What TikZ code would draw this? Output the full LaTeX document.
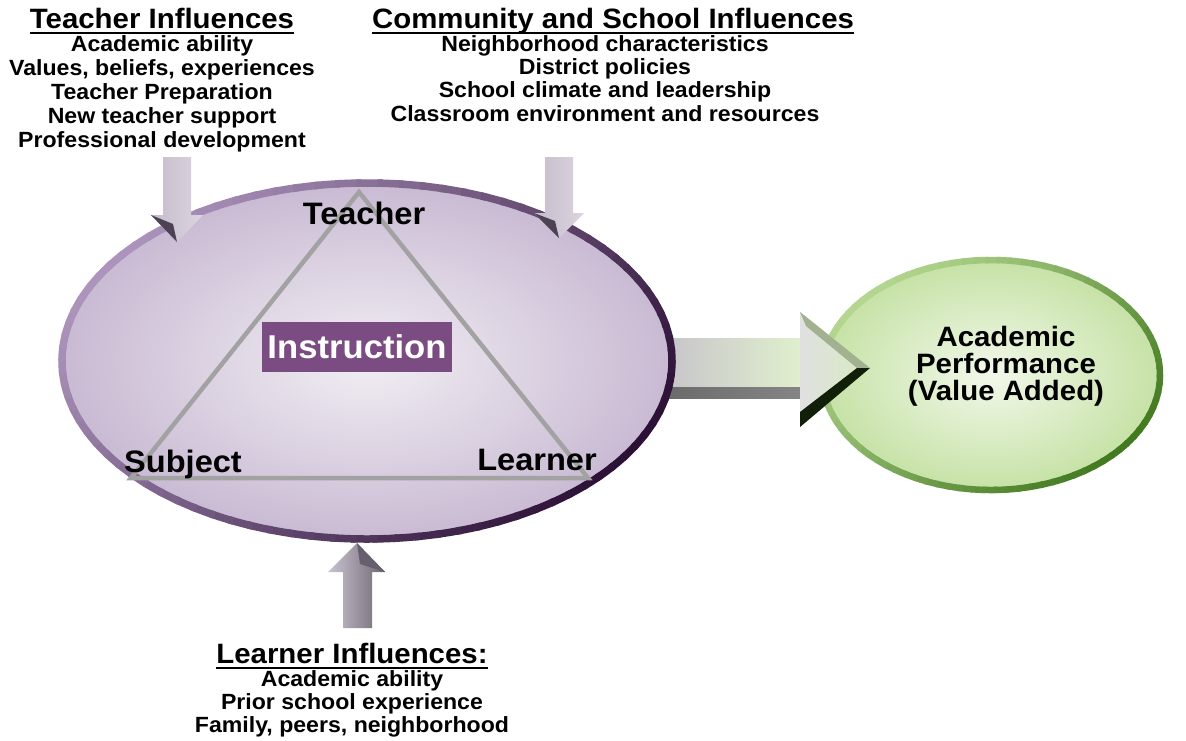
\documentclass[tikz,border=0pt]{standalone}
\usepackage{fontspec}
\setmainfont{Liberation Sans}[FakeStretch=1.05]
\usetikzlibrary{calc}

\definecolor{plight}{HTML}{AC94BC}
\definecolor{pdark}{HTML}{2C1036}
\definecolor{pin}{HTML}{F1EEF3}
\definecolor{pout}{HTML}{C9BAD3}
\definecolor{glight}{HTML}{B4D690}
\definecolor{gdark}{HTML}{437A20}
\definecolor{gin}{HTML}{F2F8EA}
\definecolor{gout}{HTML}{C6E2A6}
\definecolor{boxpurple}{HTML}{7A4C82}
\definecolor{triline}{HTML}{A2A2A2}
\definecolor{arrlight}{HTML}{F4F2F5}
\definecolor{arrside}{HTML}{C6BCCC}
\definecolor{arrright}{HTML}{DCD4E0}
\definecolor{arrdark}{HTML}{4C4254}

% underlined heading with a rule at a fixed depth
\newcommand\headline[1]{\setbox0\hbox{#1}\rlap{\rule[-6pt]{\wd0}{2.2pt}}\box0}

\tikzset{
  headtext/.style={font=\fontsize{28}{30}\selectfont\bfseries, anchor=base, inner sep=0},
  itemtext/.style={font=\fontsize{22}{24}\selectfont\bfseries, anchor=base, inner sep=0},
  cornertext/.style={font=\fontsize{31}{33}\selectfont\bfseries, anchor=base, inner sep=0},
  perftext/.style={font=\fontsize{28}{30}\selectfont\bfseries, anchor=base, inner sep=0},
  blockarrow/.style={left color=arrside, middle color=arrlight, right color=arrright},
  bevel/.style={fill=arrdark},
}

\begin{document}
\begin{tikzpicture}[x=1pt,y=-1pt]
\useasboundingbox (0,0) rectangle (1186,740);
\fill[white] (0,0) rectangle (1186,740);

% ---------- outcome ellipse ----------
\coordinate (gc) at (991,375);
\shade[inner color=gin, outer color=gout] (gc) ellipse [x radius=169, y radius=115];
\foreach \a in {0,4,...,356}{
  \pgfmathsetmacro\m{50+50*cos(\a-215)}
  \draw[line width=6.5, glight!\m!gdark]
    ($(gc)+(\a:169 and 115)$) arc[start angle=\a, end angle=\a+5, x radius=169, y radius=115];
}
\node[perftext] (perf1) at (1006,346) {Academic};
\node[perftext] (perf2) at (1006,373) {Performance};
\node[perftext] (perf3) at (1006,400) {(Value Added)};

% ---------- broad arrow from instruction to outcome ----------
\coordinate (bs) at (668,338);
\coordinate (bt) at (870,368);
\shade[left color=black!17!pin, right color=gout!55!white] (bs) rectangle (800,389);
\shade[left color=black!58, right color=black!48] (668,387) rectangle (800,398);
\shade[left color=black!12!white, right color=gout!70!white]
  (800,312) -- (bt) -- (800,427) -- cycle;
\fill[black!30!gout!80!white] (800,312) -- (bt) -- ($(bt)+(-13,0)$) -- (806,326) -- cycle;
\fill[black!75!gdark] (800,427) -- (bt) -- ($(bt)+(-13,0)$) -- (800,412) -- cycle;

% ---------- instruction ellipse ----------
\coordinate (pc) at (367,361);
\shade[inner color=pin, outer color=pout] (pc) ellipse [x radius=305, y radius=178];
\foreach \a in {0,4,...,356}{
  \pgfmathsetmacro\m{50+50*cos(\a-205)}
  \draw[line width=7.5, plight!\m!pdark]
    ($(pc)+(\a:305 and 178)$) arc[start angle=\a, end angle=\a+5, x radius=305, y radius=178];
}

% triangle of instruction
\coordinate (tT) at (359,192);
\coordinate (tS) at (131,478);
\coordinate (tL) at (588,478);
\draw[triline, line width=4.5] (tT) -- (tS) -- (tL) -- cycle;

\node[fill=boxpurple, text=white, font=\fontsize{33}{35}\selectfont\bfseries,
      minimum width=190, minimum height=50, inner sep=0] (instr) at (357,347) {Instruction};

\node[cornertext] (teacher) at (364,224) {Teacher};
\node[cornertext] (subject) at (183,472) {Subject};
\node[cornertext] (learner) at (537,470) {Learner};

% ---------- influence arrows ----------
% teacher influences (pointing down)
\coordinate (ta) at (177,242);
\shade[blockarrow] ($(ta)+(-14,-27)$) -- ($(ta)+(-14,-85)$) -- ($(ta)+(14,-85)$) -- ($(ta)+(14,-27)$)
  -- ($(ta)+(26,-27)$) -- (ta) -- ($(ta)+(-26,-27)$) -- cycle;
\fill[bevel] ($(ta)+(-26,-27)$) -- (ta) -- ($(ta)+(-4,-18)$) -- cycle;

% community and school influences (pointing down)
\coordinate (ca) at (559,238);
\shade[blockarrow] ($(ca)+(-14,-25)$) -- ($(ca)+(-14,-81)$) -- ($(ca)+(14,-81)$) -- ($(ca)+(14,-25)$)
  -- ($(ca)+(25,-25)$) -- (ca) -- ($(ca)+(-25,-25)$) -- cycle;
\fill[bevel] ($(ca)+(-25,-25)$) -- (ca) -- ($(ca)+(-4,-17)$) -- cycle;

% learner influences (pointing up)
\coordinate (la) at (357,543);
\shade[left color=arrside!90!white, middle color=arrlight, right color=black!45!arrside]
  ($(la)+(-14,29)$) -- ($(la)+(-14,85)$) -- ($(la)+(15,85)$) -- ($(la)+(15,29)$)
  -- ($(la)+(28,29)$) -- (la) -- ($(la)+(-29,29)$) -- cycle;
\fill[arrdark!85!white] ($(la)+(28,29)$) -- (la) -- ($(la)+(3,21)$) -- cycle;

% ---------- influence texts ----------
\node[headtext] (thead) at (162,28) {\headline{Teacher Influences}};
\foreach \t [count=\i] in {Academic ability, {Values, beliefs, experiences}, Teacher Preparation,
    New teacher support, Professional development}
  \node[itemtext] (titem\i) at (162,28+23.8*\i) {\t};

\node[headtext] (chead) at (613,28) {\headline{Community and School Influences}};
\foreach \t [count=\i] in {Neighborhood characteristics, District policies,
    School climate and leadership, Classroom environment and resources}
  \node[itemtext] (citem\i) at (605,28+23.3*\i) {\t};

\node[headtext] (lhead) at (352,663) {\headline{Learner Influences:}};
\foreach \t [count=\i] in {Academic ability, Prior school experience, {Family, peers, neighborhood}}
  \node[itemtext] (litem\i) at (352,663+23*\i) {\t};
\end{tikzpicture}
\end{document}
